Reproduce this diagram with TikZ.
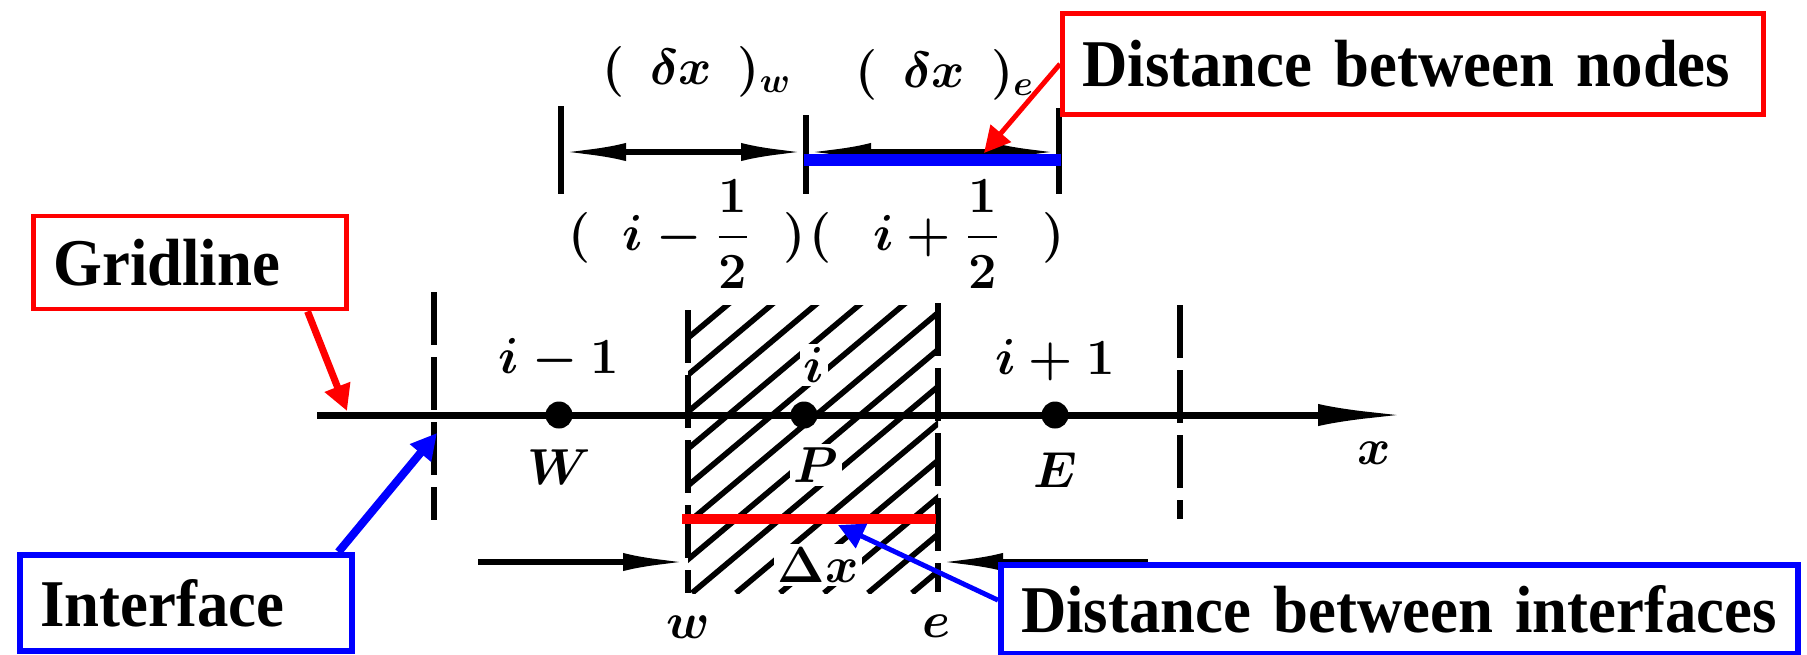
\documentclass[tikz,border=0pt]{standalone}
\usepackage[no-math]{fontspec}
\setmainfont{Liberation Serif}
\newfontfamily\calloutfont{Liberation Serif}[FakeStretch=0.94]
\usepackage{amsmath,amssymb}
\usetikzlibrary{positioning,arrows.meta,calc}
\definecolor{callred}{HTML}{FF0000}
\definecolor{callblue}{HTML}{0000FF}
\tikzset{
    dot/.style={circle,fill=black,inner sep=0pt,minimum size=2.7mm},
    lab/.style={inner sep=1pt,font=\fontsize{14}{17}\selectfont\boldmath},
    big lab/.style={inner sep=1pt,font=\fontsize{15}{18}\selectfont\boldmath},
    cell lab/.style={lab,fill=white},
    gline/.style={line width=1.7pt},
    iface/.style={line width=1.7pt,dash pattern=on 15pt off 3.5pt},
    hatch/.style={line width=1.6pt},
    axisline/.style={line width=2pt,-{Latex[length=9mm,width=2.2mm]}},
    dimarrow/.style={line width=1.7pt,{Latex[length=6.5mm,width=1.8mm]}-{Latex[length=6.5mm,width=1.8mm]}},
    dimhalf/.style={line width=1.7pt,-{Latex[length=6.5mm,width=1.8mm]}},
    redbar/.style={draw=callred,line width=2.6pt},
    bluebar/.style={draw=callblue,line width=3.4pt},
    callout/.style={draw,fill=white,anchor=north west,align=left,inner xsep=2mm,
        font=\fontsize{19}{21}\calloutfont\bfseries},
    redbox/.style={callout,draw=callred,line width=1.4pt},
    bluebox/.style={callout,draw=callblue,line width=1.8pt},
    redpoint/.style={draw=callred,line width=1.4pt,-{Triangle[length=2.6mm,width=2.6mm]},fill=callred},
    bluepoint/.style={draw=callblue,line width=1.4pt,-{Triangle[length=2.6mm,width=2.6mm]},fill=callblue},
}

\begin{document}
\begin{tikzpicture}
    \useasboundingbox (0,0) rectangle (18.07,-6.54);

    % hatched control volume
    \begin{scope}
        \clip (6.88,-3.05) rectangle (9.38,-5.93);
        \foreach \k in {0,...,14}
            \draw[hatch] ({3.40+\k*0.44},-5.93) -- ++(40:5);
    \end{scope}

    % interfaces
    \coordinate (fw1) at (4.34,-2.92);
    \coordinate (fw2) at (4.34,-5.20);
    \coordinate (wt) at (6.88,-3.10);
    \coordinate (wb) at (6.88,-5.93);
    \coordinate (et) at (9.38,-3.03);
    \coordinate (eb) at (9.38,-5.92);
    \coordinate (fe1) at (11.80,-3.05);
    \coordinate (fe2) at (11.80,-5.19);
    \draw[iface] (fw1) -- (fw2);
    \draw[iface] (wt) -- (wb);
    \draw[iface] (et) -- (eb);
    \draw[iface] (fe1) -- (fe2);

    % grid line and nodes
    \coordinate (x0) at (3.17,-4.15);
    \coordinate (x1) at (14.08,-4.15);
    \draw[axisline] (x0) -- (x1);
    \node[lab] (xlab) at (13.74,-4.53) {$x$};

    \node[dot,label={[lab,label distance=1.6mm]above:$i-1$},
        label={[lab,label distance=1.6mm]below:$W$}] (W) at (5.59,-4.15) {};
    \node[dot,label={[cell lab,label distance=1.4mm,xshift=1mm]above:$i$},
        label={[cell lab,label distance=1.4mm,xshift=1.2mm]below:$P$}] (P) at (8.04,-4.15) {};
    \node[dot,label={[lab,label distance=1.6mm]above:$i+1$},
        label={[lab,label distance=1.9mm]below:$E$}] (E) at (10.55,-4.15) {};

    % distance between nodes
    \coordinate (tw) at (5.61,-1.52);
    \coordinate (tp) at (8.06,-1.52);
    \coordinate (te) at (10.59,-1.52);
    \draw[gline] ($(tw)+(0,0.46)$) -- ($(tw)+(0,-0.42)$);
    \draw[gline] ($(tp)+(0,0.37)$) -- ($(tp)+(0,-0.42)$);
    \draw[gline] ($(te)+(0,0.44)$) -- ($(te)+(0,-0.42)$);
    \draw[dimarrow] (tw) -- (tp);
    \draw[dimarrow] (tp) -- (te);
    \draw[bluebar] ($(tp)+(-0.02,-0.08)$) -- ($(te)+(0.02,-0.08)$);
    \node[lab] (dxw) at (6.97,-0.72) {$(\;\,\delta x\;\,)_{w}$};
    \node[lab] (dxe) at (9.45,-0.75) {$(\;\,\delta x\;\,)_{e}$};
    \node[big lab] (hm) at (6.87,-2.34) {$(\;\;i-\dfrac{1}{2}\;\;)$};
    \node[big lab] (hp) at (9.37,-2.34) {$(\;\;\,i+\dfrac{1}{2}\;\;\,)$};

    % distance between interfaces
    \coordinate (bl) at (4.78,-5.62);
    \coordinate (wd) at (6.88,-5.62);
    \coordinate (ed) at (9.38,-5.62);
    \coordinate (br) at (11.48,-5.62);
    \draw[dimhalf] (bl) -- (wd);
    \draw[dimhalf] (br) -- (ed);
    \node[cell lab] (dx) at (8.18,-5.65) {$\Delta x$};
    \node[lab] (wlab) at (6.88,-6.27) {$w$};
    \node[lab] (elab) at (9.36,-6.26) {$e$};
    \coordinate (rb1) at (6.82,-5.19);
    \coordinate (rb2) at (9.36,-5.19);
    \draw[redbar] (rb1) -- (rb2);

    % callouts
    \node[redbox,text width=2.73cm,minimum height=0.93cm] (grid) at (0.31,-2.135) {Gridline};
    \node[bluebox,text width=2.92cm,minimum height=0.96cm] (ifc) at (0.17,-5.52) {Interface};
    \node[redbox,text width=6.61cm,minimum height=1.01cm] (dnodes) at (10.60,-0.11) {Distance between nodes};

    \coordinate (gtip) at (3.47,-4.11);
    \coordinate (itip) at (4.37,-4.33);
    \coordinate (ntip) at (9.84,-1.53);
    \coordinate (ftip) at (8.38,-5.25);
    \draw[redpoint,line width=2pt] ($(grid.south west)!0.87!(grid.south east)$) -- (gtip);
    \draw[bluepoint,line width=2.3pt] ($(ifc.north west)!0.95!(ifc.north east)$) -- (itip);
    \draw[redpoint] (dnodes.west) -- (ntip);

    \node[bluebox,text width=7.57cm,minimum height=0.89cm] (dfaces) at (9.98,-5.62) {Distance between interfaces};
    \draw[bluepoint] ($(dfaces.north west)!0.4!(dfaces.south west)$) -- (ftip);
\end{tikzpicture}
\end{document}
